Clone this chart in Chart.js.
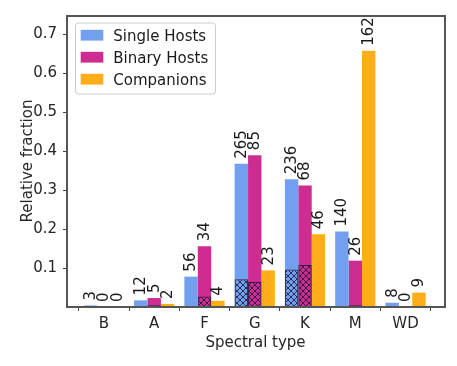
<!DOCTYPE html>
<html>
<head>
<meta charset="utf-8">
<script src="https://cdn.jsdelivr.net/npm/chart.js@4/dist/chart.umd.min.js"></script>
<style>
  body { margin: 0; background: #fff; }
</style>
</head>
<body>
<canvas id="mychart" width="457" height="366"></canvas>
<script>
// spectral types along the x axis
var categories = ["B", "A", "F", "G", "K", "M", "WD"]

// relative fractions
var singleHosts = [0.004, 0.017, 0.078, 0.368, 0.328, 0.194, 0.011]
var binaryHosts = [0, 0.023, 0.156, 0.390, 0.312, 0.119, 0]
var companions = [0, 0.008, 0.016, 0.094, 0.187, 0.658, 0.037]

// hatched sub-parts at the bottom of the host bars
var singleHatched = [null, null, 0.0015, 0.071, 0.096, null, null]
var binaryHatched = [null, 0.0045, 0.027, 0.064, 0.108, 0.0045, null]

// counts written above the bars
var singleCounts = [3, 12, 56, 265, 236, 140, 8]
var binaryCounts = [0, 5, 34, 85, 68, 26, 0]
var companionCounts = [0, 2, 4, 23, 46, 162, 9]

var yTicks = [0.1, 0.2, 0.3, 0.4, 0.5, 0.6, 0.7]

var blue = "rgb(115,159,239)"
var magenta = "rgb(205,44,145)"
var orange = "rgb(255,174,25)"
var axisColor = "#444444"

function points(arr) {
    return arr.map(function(v, i){ return {x: i, y: v} })
}

function hatch(color) {
    var c = document.createElement("canvas")
    c.width = 6
    c.height = 6
    var g = c.getContext("2d")
    g.strokeStyle = color
    g.lineWidth = 1
    g.beginPath()
    g.moveTo(-1, -1); g.lineTo(7, 7)
    g.moveTo(7, -1); g.lineTo(-1, 7)
    g.stroke()
    return g.createPattern(c, "repeat")
}

var hatchColor = "rgba(25,25,55,0.85)"

Chart.defaults.font.family = "'DejaVu Sans', sans-serif"
Chart.defaults.font.size = 15
Chart.defaults.color = "#262626"

// counts above the bars, rotated like the original
var barLabels = {
    id: "barLabels",
    afterDatasetsDraw: function(chart) {
        var ctx = chart.ctx
        ctx.save()
        ctx.font = "15px 'DejaVu Sans'"
        ctx.fillStyle = "#1a1a1a"
        ctx.textAlign = "left"
        ctx.textBaseline = "middle"
        chart.data.datasets.forEach(function(ds, di){
            if (!ds.counts) return
            var meta = chart.getDatasetMeta(di)
            meta.data.forEach(function(bar, i){
                ctx.save()
                ctx.translate(bar.x + 0.5, bar.y - 5)
                ctx.rotate(-Math.PI / 2)
                ctx.fillText(String(ds.counts[i]), 0, 0)
                ctx.restore()
            })
        })
        ctx.restore()
    }
}

// frame + legend box inside the plot
var frameLegend = {
    id: "frameLegend",
    afterDraw: function(chart) {
        var ctx = chart.ctx
        var a = chart.chartArea
        var l = Math.round(a.left) - 1, r = Math.round(a.right)
        var t = Math.round(a.top), b = Math.round(a.bottom) - 1
        ctx.save()
        ctx.fillStyle = "#555555"
        ctx.fillRect(l, t, r - l + 2, 2)
        ctx.fillRect(l, b, r - l + 2, 2)
        ctx.fillRect(l, t, 2, b - t + 2)
        ctx.fillRect(r, t, 2, b - t + 2)

        var bx = a.left + 8.5, by = a.top + 8, bw = 140, bh = 71
        ctx.beginPath()
        ctx.roundRect(bx, by, bw, bh, 3)
        ctx.fillStyle = "rgba(255,255,255,0.8)"
        ctx.fill()
        ctx.strokeStyle = "#cccccc"
        ctx.lineWidth = 1
        ctx.stroke()

        ctx.font = "15px 'DejaVu Sans'"
        ctx.textBaseline = "alphabetic"
        ctx.textAlign = "left"
        var items = chart.data.datasets.filter(function(ds){ return ds.counts })
        items.forEach(function(ds, i){
            var cy = a.top + 20.2 + i * 22
            ctx.fillStyle = ds.backgroundColor
            ctx.fillRect(a.left + 13.7, cy - 5.4, 22.6, 10.8)
            ctx.fillStyle = "#1a1a1a"
            ctx.fillText(ds.label, a.left + 46.3, cy + 5.5)
        })
        ctx.restore()
    }
}

var myChart = document.getElementById("mychart").getContext("2d")

var chart = new Chart(myChart, {
    type: "bar",
    data: {
        datasets: [
            {label: "Single Hosts", data: points(singleHosts), counts: singleCounts,
             backgroundColor: blue, stack: "s", order: 1},
            {label: "Binary Hosts", data: points(binaryHosts), counts: binaryCounts,
             backgroundColor: magenta, stack: "b", order: 1},
            {label: "Companions", data: points(companions), counts: companionCounts,
             backgroundColor: orange, stack: "c", order: 1},
            {label: "Single hatched", data: points(singleHatched), backgroundColor: hatch(hatchColor),
             borderColor: hatchColor, borderWidth: 1, stack: "s", order: 0},
            {label: "Binary hatched", data: points(binaryHatched), backgroundColor: hatch(hatchColor),
             borderColor: hatchColor, borderWidth: 1, stack: "b", order: 0}
        ]
    },
    options: {
        responsive: false,
        animation: false,
        categoryPercentage: 0.8,
        barPercentage: 1.0,
        layout: {padding: {left: 0, right: 13, top: 13.5, bottom: 0}},
        plugins: {
            legend: {display: false},
            tooltip: {enabled: false}
        },
        scales: {
            x: {
                type: "linear",
                offset: false,
                min: -0.735,
                max: 6.765,
                afterBuildTicks: function(axis){
                    axis.ticks = categories.map(function(c, i){ return {value: i} })
                },
                afterFit: function(axis){ axis.height = 59 },
                ticks: {
                    autoSkip: false,
                    padding: 4,
                    callback: function(v){ return categories[v] }
                },
                grid: {display: true, drawOnChartArea: false, tickLength: 4, color: axisColor},
                border: {display: false},
                title: {display: true, text: "Spectral type", padding: {top: 0, bottom: 14}}
            },
            y: {
                stacked: false,
                min: 0,
                max: 0.75,
                afterBuildTicks: function(axis){
                    axis.ticks = yTicks.map(function(v){ return {value: v} })
                },
                afterFit: function(axis){ axis.width = 67 },
                ticks: {
                    padding: 6,
                    callback: function(v){ return v.toFixed(1) }
                },
                grid: {display: true, drawOnChartArea: false, tickLength: 4, color: axisColor},
                border: {display: false},
                title: {display: true, text: "Relative fraction", padding: {top: 19, bottom: 0}}
            }
        }
    },
    plugins: [barLabels, frameLegend]
})
</script>
</body>
</html>
